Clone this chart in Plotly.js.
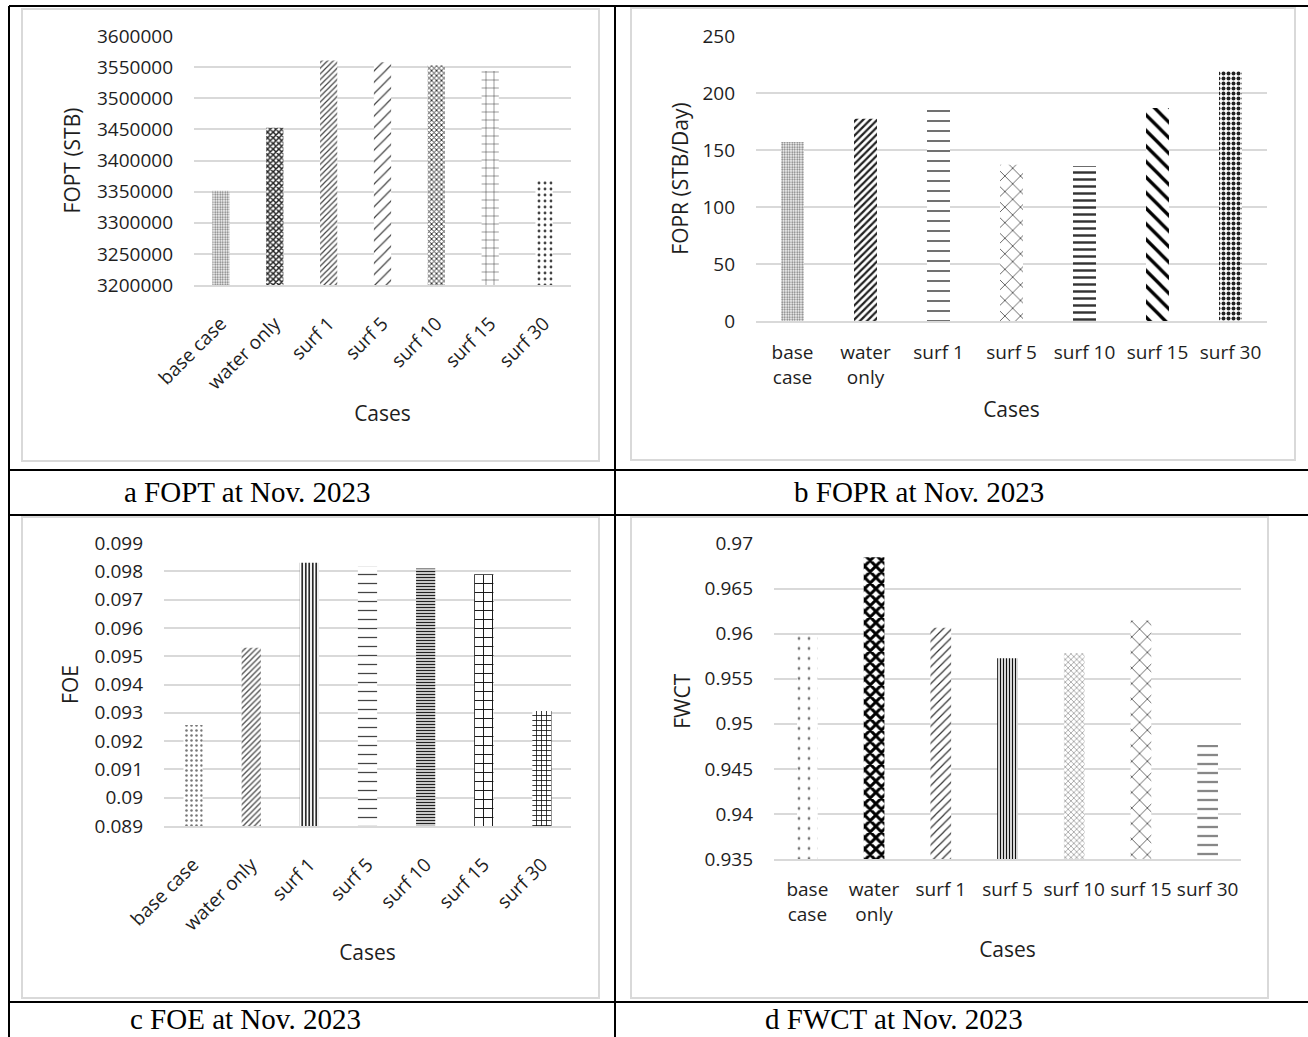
<!DOCTYPE html>
<html>
<head>
<meta charset="utf-8">
<script src="https://cdn.plot.ly/plotly-3.0.1.min.js"></script>
<style>
html,body{margin:0;padding:0;background:#ffffff;}
#chart{width:1308px;height:1037px;}
</style>
</head>
<body>
<div id="chart"></div>
<script>
// ---------------- data ----------------
const cases = ['base case', 'water only', 'surf 1', 'surf 5', 'surf 10', 'surf 15', 'surf 30'];
const casesTwoLine = ['base<br>case', 'water<br>only', 'surf 1', 'surf 5', 'surf 10', 'surf 15', 'surf 30'];

const fopt = [3351600, 3452600, 3560600, 3558000, 3552600, 3543600, 3370100];
const fopr = [157.0, 177.5, 186.8, 137.1, 136.0, 186.8, 219.3];
const foe  = [0.09257, 0.09530, 0.09830, 0.09818, 0.09810, 0.09790, 0.09306];
const fwct = [0.95973, 0.96848, 0.96065, 0.95728, 0.95782, 0.96145, 0.94766];

const foptTicks = [3200000, 3250000, 3300000, 3350000, 3400000, 3450000, 3500000, 3550000, 3600000];
const foptTickText = ['3200000', '3250000', '3300000', '3350000', '3400000', '3450000', '3500000', '3550000', '3600000'];
const foprTicks = [0, 50, 100, 150, 200, 250];
const foprTickText = ['0', '50', '100', '150', '200', '250'];
const foeTicks = [0.089, 0.090, 0.091, 0.092, 0.093, 0.094, 0.095, 0.096, 0.097, 0.098, 0.099];
const foeTickText = ['0.089', '0.09', '0.091', '0.092', '0.093', '0.094', '0.095', '0.096', '0.097', '0.098', '0.099'];
const fwctTicks = [0.935, 0.940, 0.945, 0.950, 0.955, 0.960, 0.965, 0.970];
const fwctTickText = ['0.935', '0.94', '0.945', '0.95', '0.955', '0.96', '0.965', '0.97'];

const captions = ['a FOPT at Nov. 2023', 'b FOPR at Nov. 2023', 'c FOE at Nov. 2023', 'd FWCT at Nov. 2023'];
const yTitles = ['FOPT (STB)', 'FOPR (STB/Day)', 'FOE', 'FWCT'];
const xTitle = 'Cases';

// ---------------- styling ----------------
const W = 1308, H = 1037;
const FONT = 'Open Sans, Lato, sans-serif';
const SERIF = 'Liberation Serif, Times New Roman, serif';
const TXT = '#1e1e1e';
const GRID = '#d9d9d9';
const px = p => p / W;
const py = p => 1 - p / H;

const patterns = {
  a: {shape: ['.', 'x', '/', '/', 'x', '+', '.'],
      size: [2.5, 4, 4, 8, 3.5, 8, 6],
      solidity: [0.45, 0.6, 0.3, 0.15, 0.45, 0.12, 0.18],
      fg: ['#777', '#222', '#444', '#444', '#222', '#333', '#444']},
  b: {shape: ['.', '/', '-', 'x', '-', '\\', '.'],
      size: [2.5, 5, 10, 11, 7, 11, 5],
      solidity: [0.45, 0.45, 0.14, 0.12, 0.35, 0.3, 0.5],
      fg: ['#777', '#222', '#333', '#222', '#333', '#000', '#222']},
  c: {shape: ['.', '/', '|', '-', '-', '+', '+'],
      size: [5, 4, 3.5, 9, 3, 9, 5],
      solidity: [0.2, 0.35, 0.45, 0.14, 0.5, 0.2, 0.3],
      fg: ['#777', '#555', '#111', '#444', '#222', '#111', '#111']},
  d: {shape: ['.', 'x', '/', '|', 'x', 'x', '-'],
      size: [10, 8, 6, 3, 4, 11, 9],
      solidity: [0.06, 0.6, 0.2, 0.45, 0.2, 0.12, 0.15],
      fg: ['#777', '#000', '#333', '#111', '#444', '#222', '#333']}
};

function barTrace(y, xa, ya, p, width) {
  return {
    type: 'bar', x: cases, y: y, xaxis: xa, yaxis: ya, width: width,
    showlegend: false, hoverinfo: 'x+y',
    marker: {
      color: '#ffffff', line: {width: 0},
      pattern: {shape: p.shape, size: p.size, solidity: p.solidity,
                fgcolor: p.fg, bgcolor: '#ffffff', fillmode: 'replace'}
    }
  };
}

const data = [
  barTrace(fopt, 'x', 'y', patterns.a, 0.32),
  barTrace(fopr, 'x2', 'y2', patterns.b, 0.315),
  barTrace(foe, 'x3', 'y3', patterns.c, 0.33),
  barTrace(fwct, 'x4', 'y4', patterns.d, 0.31)
];

function xAxis(l, r, anchor, angle, twoLine, standoffLabel, titleStandoff) {
  const ax = {
    domain: [px(l), px(r)], anchor: anchor, type: 'category',
    range: [-0.5, 6.5], showgrid: false, zeroline: false,
    showline: true, linecolor: GRID, linewidth: 2, ticks: '',
    tickangle: angle, ticklabelstandoff: standoffLabel,
    tickfont: {family: FONT, size: 19, color: TXT},
    title: {text: xTitle, font: {family: FONT, size: 21, color: TXT}, standoff: titleStandoff},
    fixedrange: true
  };
  if (twoLine) { ax.tickmode = 'array'; ax.tickvals = cases; ax.ticktext = casesTwoLine; }
  return ax;
}

function yAxis(top, bot, anchor, range, tv, tt, title, titleStandoff) {
  return {
    domain: [py(bot), py(top)], anchor: anchor, range: range,
    tickmode: 'array', tickvals: tv, ticktext: tt,
    showgrid: true, gridcolor: GRID, gridwidth: 2, zeroline: false,
    showline: false, ticks: '', ticklabelstandoff: 20,
    tickfont: {family: FONT, size: 19, color: TXT},
    title: {text: title, font: {family: FONT, size: 21, color: TXT}, standoff: titleStandoff},
    fixedrange: true
  };
}

function hLine(y, x0, x1) {
  return {type: 'line', xref: 'paper', yref: 'paper', x0: px(x0), x1: px(x1), y0: py(y), y1: py(y),
          line: {color: '#000', width: 2}};
}
function vLine(x, y0, y1) {
  return {type: 'line', xref: 'paper', yref: 'paper', x0: px(x), x1: px(x), y0: py(y0), y1: py(y1),
          line: {color: '#000', width: 2}};
}
function box(l, t, r, b) {
  return {type: 'rect', xref: 'paper', yref: 'paper', x0: px(l), x1: px(r), y0: py(b), y1: py(t),
          line: {color: GRID, width: 2}, layer: 'below'};
}

function caption(text, x, y, anchorY) {
  return {text: text, xref: 'paper', yref: 'paper', x: px(x), y: py(y), xanchor: 'left', yanchor: anchorY,
          showarrow: false, font: {family: SERIF, size: 29, color: '#000'}};
}

const layout = {
  width: W, height: H,
  margin: {l: 0, r: 0, t: 0, b: 0, pad: 0},
  paper_bgcolor: '#ffffff', plot_bgcolor: 'rgba(0,0,0,0)',
  showlegend: false,
  xaxis:  xAxis(194, 571, 'y', -45, false, 18, 12),
  yaxis:  yAxis(36, 285, 'x', [3200000, 3600000], foptTicks, foptTickText, yTitles[0], 10),
  xaxis2: xAxis(756, 1267, 'y2', 0, true, 13, 14),
  yaxis2: yAxis(36, 321, 'x2', [0, 250], foprTicks, foprTickText, yTitles[1], 8),
  xaxis3: xAxis(164, 571, 'y3', -45, false, 18, 10),
  yaxis3: yAxis(543, 826, 'x3', [0.089, 0.099], foeTicks, foeTickText, yTitles[2], 10),
  xaxis4: xAxis(774, 1241, 'y4', 0, true, 12, 17),
  yaxis4: yAxis(543.5, 859, 'x4', [0.935, 0.970], fwctTicks, fwctTickText, yTitles[3], 8),
  shapes: [
    box(22, 9, 599, 461), box(631, 8, 1295, 460),
    box(22, 517, 599, 998), box(631, 517, 1268, 998),
    hLine(6, 9, 1308), hLine(470, 9, 1308), hLine(515, 9, 1308), hLine(1002, 9, 1308),
    vLine(9, 6, 1037), vLine(615, 6, 1037)
  ],
  annotations: [
    caption(captions[0], 122, 492, 'middle'), caption(captions[1], 792, 492, 'middle'),
    caption(captions[2], 128, 1037, 'bottom'), caption(captions[3], 763, 1037, 'bottom')
  ]
};

Plotly.newPlot('chart', data, layout, {displayModeBar: false, staticPlot: true});
</script>
</body>
</html>
